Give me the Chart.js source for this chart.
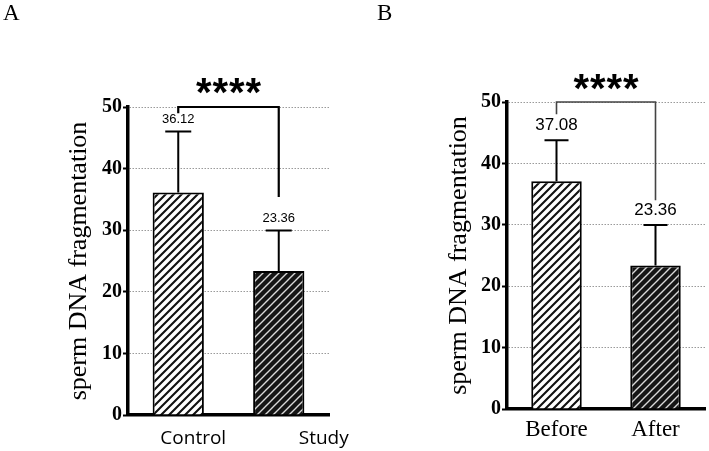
<!DOCTYPE html>
<html>
<head>
<meta charset="utf-8">
<script src="https://cdn.jsdelivr.net/npm/chart.js@4.4.1/dist/chart.umd.min.js"></script>
<style>
  body { margin: 0; background: #fff; }
  #wrap { position: relative; width: 709px; height: 451px; }
  canvas { position: absolute; top: 0; }
</style>
</head>
<body>
<div id="wrap">
  <canvas id="chartA" width="354" height="451" style="left:0"></canvas>
  <canvas id="chartB" width="355" height="451" style="left:354px"></canvas>
</div>
<script>
// Panel A
const labelsA = ["Control", "Study"];
const meansA = [36.12, 23.36];
const sdA = [9.9, 6.6];
const bracketA = [49, 35.4];      // where the bracket legs stop
const valueTextA = ["36.12", "23.36"];

// Panel B
const labelsB = ["Before", "After"];
const meansB = [37.08, 23.36];
const sdB = [6.7, 6.6];
const bracketB = [48, 34];
const valueTextB = ["37.08", "23.36"];

const yMax = 50;
const yStep = 10;
const yTitle = "sperm DNA fragmentation";
const signif = "****";

// hatch patterns
function hatch(bg, fg, lw, step) {
    const c = document.createElement("canvas");
    c.width = step;
    c.height = step;
    const g = c.getContext("2d");
    g.fillStyle = bg;
    g.fillRect(0, 0, step, step);
    g.strokeStyle = fg;
    g.lineWidth = lw;
    g.beginPath();
    g.moveTo(-1, step + 1); g.lineTo(step + 1, -1);
    g.moveTo(-step / 2 - 1, step / 2 + 1); g.lineTo(step / 2 + 1, -step / 2 - 1);
    g.moveTo(step / 2 - 1, step * 1.5 + 1); g.lineTo(step * 1.5 + 1, step / 2 - 1);
    g.stroke();
    return g.createPattern(c, "repeat");
}
const lightFill = hatch("#ffffff", "#111111", 2.1, 8);
const darkFill = hatch("#151515", "#d8d8d8", 1.4, 8);

const extras = {
    id: "extras",
    afterDatasetsDraw(chart, args, p) {
        const ctx = chart.ctx;
        const x = chart.scales.x;
        const y = chart.scales.y;
        ctx.save();

        // error bars (upper only)
        ctx.strokeStyle = "#000";
        ctx.lineWidth = 2;
        p.means.forEach((m, i) => {
            const cx = x.getPixelForValue(i);
            const y0 = y.getPixelForValue(m);
            const y1 = y.getPixelForValue(m + p.sd[i]);
            ctx.beginPath();
            ctx.moveTo(cx, y0);
            ctx.lineTo(cx, y1);
            ctx.moveTo(cx - p.cap, y1);
            ctx.lineTo(cx + p.cap, y1);
            ctx.stroke();
        });

        // value labels
        ctx.fillStyle = "#000";
        ctx.font = p.valueFont;
        ctx.textAlign = "center";
        ctx.textBaseline = "middle";
        p.valueText.forEach((t, i) => {
            const cx = x.getPixelForValue(i);
            const yy = y.getPixelForValue(p.means[i] + p.sd[i]) - p.valueGap;
            ctx.fillText(t, cx, yy);
        });

        // bracket
        const xa = x.getPixelForValue(0);
        const xb = x.getPixelForValue(1);
        const top = y.getPixelForValue(yMax);
        ctx.strokeStyle = p.bracketColor;
        ctx.lineWidth = p.bracketWidth;
        ctx.beginPath();
        ctx.moveTo(xa, y.getPixelForValue(p.bracket[0]));
        ctx.lineTo(xa, top);
        ctx.lineTo(xb, top);
        ctx.lineTo(xb, y.getPixelForValue(p.bracket[1]));
        ctx.stroke();

        // stars
        ctx.font = "bold 40px 'Liberation Sans'";
        ctx.textBaseline = "alphabetic";
        const mt = ctx.measureText("*");
        const shift = (mt.actualBoundingBoxDescent - mt.actualBoundingBoxAscent) / 2;
        const mid = (xa + xb) / 2 + p.starDx;
        const n = signif.length;
        for (let k = 0; k < n; k++) {
            ctx.fillText("*", mid + (k - (n - 1) / 2) * 16.5, p.starY - shift);
        }

        // category labels
        ctx.font = p.xFont;
        ctx.textBaseline = "middle";
        p.labels.forEach((t, i) => {
            ctx.fillText(t, x.getPixelForValue(i) + p.xOffsets[i], p.xLabelY);
        });

        // panel letter
        ctx.font = "23px 'Liberation Serif'";
        ctx.textAlign = "left";
        ctx.textBaseline = "top";
        ctx.fillText(p.letter, p.letterX, 2);
        ctx.restore();
    }
};

function makeChart(id, p) {
    return new Chart(document.getElementById(id), {
        type: "bar",
        data: {
            labels: p.labels,
            datasets: [{
                data: p.means,
                backgroundColor: [lightFill, darkFill],
                borderColor: "#000",
                borderWidth: 2,
                borderSkipped: "bottom",
                barPercentage: 0.51,
                categoryPercentage: 1
            }]
        },
        options: {
            responsive: false,
            animation: false,
            devicePixelRatio: 1,
            layout: { padding: { top: p.padTop, right: p.padRight, left: 0, bottom: 0 } },
            plugins: {
                legend: { display: false },
                tooltip: { enabled: false },
                extras: p
            },
            scales: {
                x: {
                    afterFit: s => { s.height = p.xHeight; },
                    grid: { display: true, drawOnChartArea: false, drawTicks: false },
                    border: { display: true, color: "#000", width: 3.5 },
                    ticks: { display: false }
                },
                y: {
                    min: 0,
                    max: yMax,
                    afterFit: s => { s.width = p.yWidth; },
                    ticks: {
                        stepSize: yStep,
                        color: "#000",
                        padding: 1,
                        font: { family: "'Liberation Serif'", size: 20, weight: "bold" }
                    },
                    grid: {
                        color: "#9a9a9a",
                        lineWidth: 1,
                        tickColor: "#000",
                        tickLength: 5,
                        tickWidth: 2
                    },
                    border: { display: true, color: "#000", width: 3.5, dash: [1.5, 1.5] },
                    title: {
                        display: true,
                        text: yTitle,
                        color: "#000",
                        font: { family: "'Liberation Serif'", size: 26 },
                        padding: { top: p.titlePad, bottom: 0 }
                    }
                }
            }
        },
        plugins: [extras]
    });
}

makeChart("chartA", {
    labels: labelsA, means: meansA, sd: sdA, bracket: bracketA, valueText: valueTextA,
    padTop: 107, padRight: 25, xHeight: 36, yWidth: 128, titlePad: 64,
    cap: 13, valueFont: "13px 'Liberation Sans'", valueGap: 12,
    bracketColor: "#000", bracketWidth: 2.2, starY: 86, starDx: 0,
    xFont: "19px 'Open Sans'", xOffsets: [15, 45], xLabelY: 439,
    letter: "A", letterX: 3
});

makeChart("chartB", {
    labels: labelsB, means: meansB, sd: sdB, bracket: bracketB, valueText: valueTextB,
    padTop: 102, padRight: 4, xHeight: 42, yWidth: 153, titlePad: 90,
    cap: 12, valueFont: "17px 'Liberation Sans'", valueGap: 15,
    bracketColor: "#444", bracketWidth: 1.6, starY: 82, starDx: 0,
    xFont: "23px 'Liberation Serif'", xOffsets: [0, 0], xLabelY: 430,
    letter: "B", letterX: 23
});
</script>
</body>
</html>
